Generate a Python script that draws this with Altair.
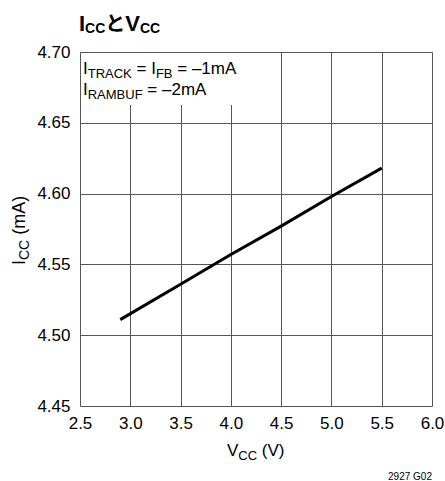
import altair as alt
import pandas as pd

# ---- data ----
vcc = [2.9, 3.5, 4.0, 4.5, 5.0, 5.5]
icc = [4.511, 4.536, 4.557, 4.577, 4.598, 4.618]
x_ticks = [2.5, 3.0, 3.5, 4.0, 4.5, 5.0, 5.5, 6.0]
y_ticks = [4.45, 4.50, 4.55, 4.60, 4.65, 4.70]

W, H = 352, 354
PL, PT, PR, PB = 80, 52, 13, 75
FONT = "Liberation Sans, Arial, sans-serif"
CJK = "Noto Sans CJK JP"

# approximate advance widths (per 1000 em) used to place subscript pieces
ADV = {" ": 278, "(": 333, ")": 333, "=": 584, "–": 556, "1": 556, "2": 556,
       "A": 667, "B": 667, "C": 722, "F": 611, "I": 278, "K": 667, "M": 833,
       "R": 722, "T": 611, "U": 722, "V": 667, "m": 833, "と": 1000}


def width(s, size):
    return sum(ADV.get(c, 556) for c in s) * size / 1000.0


df = pd.DataFrame({"vcc": vcc, "icc": icc})

axis_common = dict(
    title=None, grid=True, ticks=False, domain=False,
    labelFont=FONT, labelFontSize=17, labelColor="black",
    gridColor="#555", gridWidth=1, labelFlush=False,
)

line = alt.Chart(df).mark_line(color="black", strokeWidth=3).encode(
    x=alt.X("vcc:Q", scale=alt.Scale(domain=[2.5, 6.0], nice=False, zero=False),
            axis=alt.Axis(values=x_ticks, format=".1f", labelPadding=9, **axis_common)),
    y=alt.Y("icc:Q", scale=alt.Scale(domain=[4.45, 4.70], nice=False, zero=False),
            axis=alt.Axis(values=y_ticks, format=".2f", labelPadding=10, **axis_common)),
)

# white box behind the annotation
box = alt.Chart(pd.DataFrame({"a": [0]})).mark_rect(color="white").encode(
    x=alt.value(1), x2=alt.value(190), y=alt.value(1), y2=alt.value(53)
)


def txt(s, x, y, size, bold=False, font=FONT, angle=0, align="left"):
    kw = dict(text=s, font=font, fontSize=size, color="black", align=align,
              baseline="alphabetic", fontWeight="bold" if bold else "normal")
    if angle:
        kw["angle"] = angle
    return alt.Chart(pd.DataFrame({"a": [0]})).mark_text(**kw).encode(
        x=alt.value(x), y=alt.value(y)
    )


def seq(pieces, x0, y0, bold=False, vertical=False):
    """pieces: (text, size, baseline shift, font, gap before in px)"""
    out = []
    pos = 0.0
    for s, size, shift, font, gap in pieces:
        pos += gap
        if vertical:
            out.append(txt(s, x0 + shift, y0 - pos, size, bold=bold, font=font, angle=270))
        else:
            out.append(txt(s, x0 + pos, y0 + shift, size, bold=bold, font=font))
        pos += width(s, size)
    return out


M, S = 17, 13
SP = width(" ", M)
texts = []
# title  I_CC と V_CC
texts += seq([("I", 22, 0, FONT, 0), ("CC", 14, 1.5, FONT, 0), ("と", 20, 0, CJK, 0),
              ("V", 22, 0, FONT, 0), ("CC", 14, 1.5, FONT, 0)], -1, -21, bold=True)
# annotation
texts += seq([("I", M, 0, FONT, 0), ("TRACK", S, 3.5, FONT, 0), ("=", M, 0, FONT, SP),
              ("I", M, 0, FONT, SP), ("FB", S, 3.5, FONT, 0), ("= –1mA", M, 0, FONT, SP)], 3, 22)
texts += seq([("I", M, 0, FONT, 0), ("RAMBUF", S, 3.5, FONT, 0), ("= –2mA", M, 0, FONT, SP)], 3, 43)
# x axis title  V_CC (V)
texts += seq([("V", 17, 0, FONT, 0), ("CC", 13, 3.5, FONT, 0), ("(V)", 17, 0, FONT, width(" ", 17))],
             147, 404)
# y axis title  I_CC (mA)
texts += seq([("I", 18, 0, FONT, 0), ("CC", 14, 3.5, FONT, 0), ("(mA)", 18, 0, FONT, width(" ", 18))],
             -55, 213, vertical=True)
# figure code
texts.append(txt("2927 G02", 352, 428, 10, align="right"))

chart = alt.layer(line, box, *texts).properties(
    width=W, height=H,
    autosize=alt.AutoSizeParams(type="none"),
    padding={"left": PL, "top": PT, "right": PR, "bottom": PB},
).configure_view(stroke="black", strokeWidth=2).configure(background="white")

chart.save("out.html", embed_options={"renderer": "svg", "actions": False})
